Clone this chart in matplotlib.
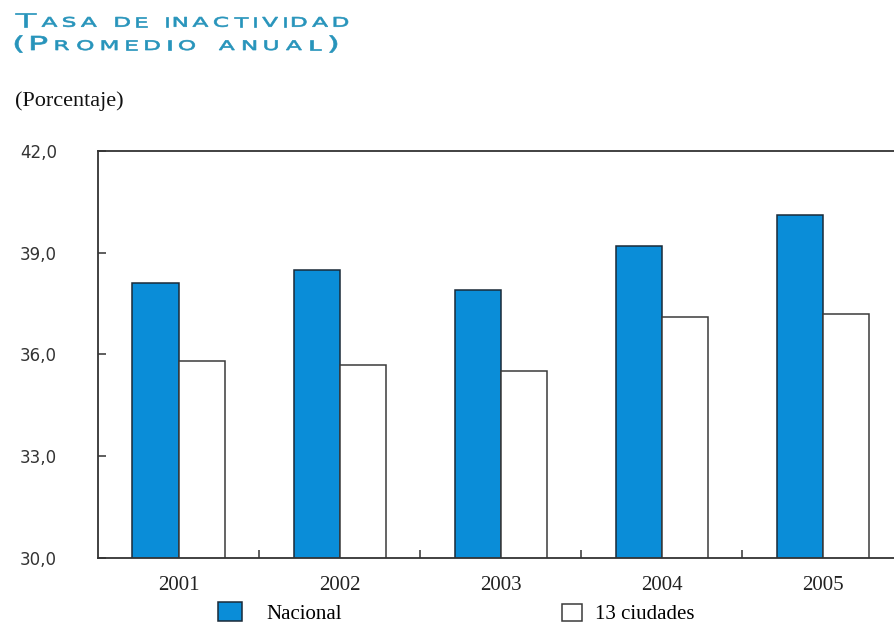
import numpy as np
import matplotlib
matplotlib.use("Agg")
import matplotlib.pyplot as plt
from matplotlib.ticker import FixedLocator, FuncFormatter
from matplotlib.textpath import TextPath
from matplotlib.patches import PathPatch
from matplotlib.font_manager import FontProperties
from matplotlib.transforms import Affine2D

# datos
anios = ["2001", "2002", "2003", "2004", "2005"]
nacional = [38.1, 38.5, 37.9, 39.2, 40.1]
ciudades = [35.8, 35.7, 35.5, 37.1, 37.2]
yticks = [30, 33, 36, 39, 42]

W, H = 894, 627
fig = plt.figure(figsize=(W / 100, H / 100), dpi=100)
fig.patch.set_facecolor("white")

ax = fig.add_axes([98 / W, 1 - 557.7 / H, (903.5 - 98) / W, (557.7 - 151) / H])

x = np.arange(len(anios))
bw = 0.286
b1 = ax.bar(x - bw / 2, nacional, bw, color="#0a8dd8", edgecolor="#1a2a38", lw=1.1, label="Nacional")
b2 = ax.bar(x + bw / 2, ciudades, bw, color="white", edgecolor="#3a3a3a", lw=1.1, label="13 ciudades")

ax.set_xlim(-0.5, 4.5)
ax.set_ylim(30, 42)
ax.set_yticks(yticks)
ax.yaxis.set_major_formatter(FuncFormatter(lambda v, p: f"{v:.1f}".replace(".", ",")))
ax.tick_params(axis="y", direction="in", length=6, width=1.1, color="#333333",
               pad=29.5, labelsize=12, labelcolor="#333333")
ax.set_xticks(x)
ax.set_xticklabels(anios, fontfamily="Liberation Serif", fontsize=15, color="#222222")
ax.tick_params(axis="x", which="major", length=0, pad=13)
ax.xaxis.set_minor_locator(FixedLocator(x[:-1] + 0.5))
ax.tick_params(axis="x", which="minor", direction="in", length=5.5, width=1.1, color="#333333")

for s in ["top", "left", "bottom"]:
    ax.spines[s].set_color("#333333")
    ax.spines[s].set_linewidth(1.3)
ax.spines["right"].set_visible(False)

fig.text(15 / W, 1 - 106 / H, "(Porcentaje)", fontfamily="Liberation Serif",
         fontsize=16, color="#111111", va="baseline", ha="left")

# leyenda: dos entradas separadas
fp = {"family": "Liberation Serif", "size": 15}
leg1 = ax.legend(handles=[b1], frameon=False, loc="center left",
                 bbox_to_anchor=(218 / W, 1 - 613 / H), bbox_transform=fig.transFigure,
                 prop=fp, borderpad=0, borderaxespad=0, handlelength=1.15,
                 handleheight=1.0, handletextpad=1.15)
ax.add_artist(leg1)
ax.legend(handles=[b2], frameon=False, loc="center left",
          bbox_to_anchor=(562 / W, 1 - 614 / H), bbox_transform=fig.transFigure,
          prop=fp, borderpad=0, borderaxespad=0, handlelength=0.96,
          handleheight=0.87, handletextpad=0.63)


# titulo en versalitas anchas (tipo Copperplate)
def versalitas(runs, x0, x1, ybase, sx=1.75, color="#2794bb"):
    font = FontProperties(family="DejaVu Sans")
    items = []
    for txt, size in runs:
        for ch in txt:
            if ch == " ":
                items.append((None, 0.3 * size * sx))
                continue
            p = TextPath((0, 0), ch, size=size, prop=font)
            items.append((p, p.get_extents()))
    widths = [(it[1] if it[0] is None else it[1].width * sx) for it in items]
    gap = (x1 - x0 - sum(widths)) / (len(items) - 1)
    xx = x0
    for (p, ext), w in zip(items, widths):
        if p is not None:
            tr = Affine2D().translate(-ext.x0, 0).scale(sx, 1).translate(xx, H - ybase)
            fig.add_artist(PathPatch(p, transform=tr, facecolor=color,
                                     edgecolor=color, lw=0.5))
        xx += w + gap


versalitas([("T", 19.2), ("ASA DE INACTIVIDAD", 13.2)], 15, 348, 26.7)
versalitas([("(P", 19.2), ("ROMEDIO ANUAL", 13.2), (")", 19.2)], 15, 337, 50)

fig.savefig("out.png", dpi=100)
